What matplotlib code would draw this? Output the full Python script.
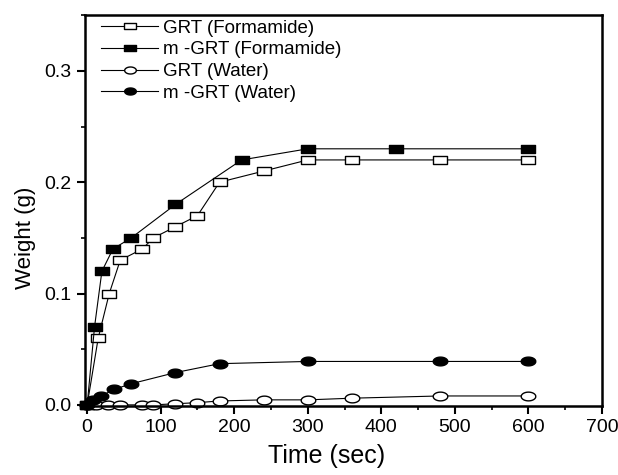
import numpy as np
import matplotlib
matplotlib.use("Agg")
import matplotlib.pyplot as plt
from matplotlib.path import Path
from matplotlib.ticker import MultipleLocator

plt.rcParams['font.family'] = ['Liberation Sans', 'DejaVu Sans']

# Data
t_grt_form = [0, 15, 30, 45, 75, 90, 120, 150, 180, 240, 300, 360, 480, 600]
w_grt_form = [0.0, 0.06, 0.10, 0.13, 0.14, 0.15, 0.16, 0.17, 0.20, 0.21, 0.22, 0.22, 0.22, 0.22]

t_mgrt_form = [0, 10, 20, 35, 60, 120, 210, 300, 420, 600]
w_mgrt_form = [0.0, 0.07, 0.12, 0.14, 0.15, 0.18, 0.22, 0.23, 0.23, 0.23]

t_grt_water = [0, 12, 28, 44, 74, 90, 120, 150, 180, 240, 300, 360, 480, 600]
w_grt_water = [0.0, 0.0, 0.0, 0.0, 0.0, 0.0, 0.001, 0.002, 0.0035, 0.0045, 0.0045, 0.006, 0.008, 0.008]

t_mgrt_water = [0, 8, 19, 37, 60, 120, 180, 300, 480, 600]
w_mgrt_water = [0.0, 0.0045, 0.008, 0.014, 0.019, 0.029, 0.037, 0.039, 0.039, 0.039]

labels = ["GRT (Formamide)", "m -GRT (Formamide)", "GRT (Water)", "m -GRT (Water)"]

# custom markers: wide rectangle and wide ellipse
rect = Path([(-1, -0.6), (1, -0.6), (1, 0.6), (-1, 0.6), (-1, -0.6)],
            [Path.MOVETO, Path.LINETO, Path.LINETO, Path.LINETO, Path.CLOSEPOLY])
th = np.linspace(0, 2 * np.pi, 60)
ell = Path(np.column_stack([np.cos(th), 0.6 * np.sin(th)]))

fig = plt.figure(figsize=(6.18, 4.75), dpi=100)
ax = fig.add_axes([0.1375, 0.1453, 0.8365, 0.8227])

common = dict(color='black', lw=0.8, markersize=10.5, markeredgewidth=1.0,
              markeredgecolor='black', clip_on=False)
ax.plot(t_grt_form, w_grt_form, marker=rect, markerfacecolor='white', label=labels[0], **common)
ax.plot(t_mgrt_form, w_mgrt_form, marker=rect, markerfacecolor='black', label=labels[1], **common)
ax.plot(t_grt_water, w_grt_water, marker=ell, markerfacecolor='white', label=labels[2], **common)
ax.plot(t_mgrt_water, w_mgrt_water, marker=ell, markerfacecolor='black', label=labels[3], **common)

ax.set_xlim(-3, 700)
ax.set_ylim(-0.001, 0.35)
ax.xaxis.set_major_locator(MultipleLocator(100))
ax.xaxis.set_minor_locator(MultipleLocator(50))
ax.yaxis.set_minor_locator(MultipleLocator(0.05))
ax.set_yticks([0.0, 0.1, 0.2, 0.3])
ax.set_yticklabels(["0.0", "0.1", "0.2", "0.3"])

ax.tick_params(which='major', direction='out', length=6, width=1.5, labelsize=14,
               top=False, right=False)
ax.tick_params(which='minor', direction='out', length=3, width=1.2, top=False, right=False)
for s in ax.spines.values():
    s.set_linewidth(1.8)

ax.set_xlabel("Time (sec)", fontsize=18, labelpad=5)
ax.xaxis.set_label_coords(0.468, -0.098)
ax.set_ylabel("Weight (g)", fontsize=16, labelpad=6)
ax.yaxis.set_label_coords(-0.095, 0.43)

leg = ax.legend(loc='upper left', frameon=False, fontsize=13.5, handlelength=3.0,
                handletextpad=0.3, labelspacing=0.25, borderaxespad=0.2,
                markerscale=0.8, bbox_to_anchor=(0.01, 1.018))

fig.savefig("out.png", dpi=100)
